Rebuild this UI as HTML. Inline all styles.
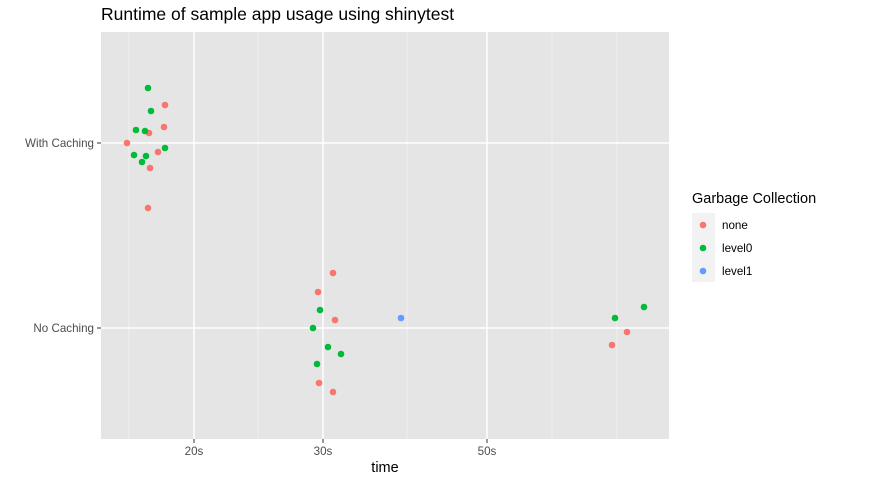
<!DOCTYPE html>
<html><head><meta charset="utf-8"><style>
html,body{margin:0;padding:0;background:#fff;}
svg{display:block;font-family:"Liberation Sans",sans-serif;}
</style></head><body>
<svg width="874" height="483" viewBox="0 0 874 483">
<rect width="874" height="483" fill="#fff"/>
<text x="101" y="20" font-size="17.5" fill="#000">Runtime of sample app usage using shinytest</text>
<rect x="101" y="32" width="568" height="407" fill="#e5e5e5"/>
<g stroke="#f2f2f2" stroke-width="0.8">
<line x1="129" y1="32" x2="129" y2="439"/><line x1="258" y1="32" x2="258" y2="439"/>
<line x1="407" y1="32" x2="407" y2="439"/><line x1="552" y1="32" x2="552" y2="439"/>
<line x1="617" y1="32" x2="617" y2="439"/>
</g>
<g stroke="#fff" stroke-width="1.5">
<line x1="194" y1="32" x2="194" y2="439"/><line x1="323" y1="32" x2="323" y2="439"/>
<line x1="487" y1="32" x2="487" y2="439"/>
<line x1="101" y1="143" x2="669" y2="143"/><line x1="101" y1="328" x2="669" y2="328"/>
</g>
<g stroke="#333" stroke-width="1">
<line x1="97" y1="143" x2="101" y2="143"/><line x1="97" y1="328" x2="101" y2="328"/>
<line x1="194" y1="439" x2="194" y2="443"/><line x1="323" y1="439" x2="323" y2="443"/><line x1="487" y1="439" x2="487" y2="443"/>
</g>
<g font-size="11.6" fill="#4d4d4d">
<text x="94" y="147" text-anchor="end">With Caching</text>
<text x="94" y="332" text-anchor="end">No Caching</text>
<text x="194" y="455" text-anchor="middle">20s</text>
<text x="323" y="455" text-anchor="middle">30s</text>
<text x="487" y="455" text-anchor="middle">50s</text>
</g>
<text x="385" y="472" font-size="14.5" text-anchor="middle" fill="#000">time</text>
<g fill="#f8766d">
<circle cx="165" cy="105" r="3.3"/><circle cx="164" cy="127" r="3.3"/><circle cx="149" cy="133" r="3.3"/><circle cx="127" cy="143" r="3.3"/><circle cx="158" cy="152" r="3.3"/><circle cx="150" cy="168" r="3.3"/><circle cx="148" cy="208" r="3.3"/>
<circle cx="333" cy="273" r="3.3"/><circle cx="318" cy="292" r="3.3"/><circle cx="335" cy="320" r="3.3"/><circle cx="319" cy="383" r="3.3"/><circle cx="333" cy="392" r="3.3"/><circle cx="627" cy="332" r="3.3"/><circle cx="612" cy="345" r="3.3"/>
</g>
<g fill="#00ba38">
<circle cx="148" cy="88" r="3.3"/><circle cx="151" cy="111" r="3.3"/><circle cx="136" cy="130" r="3.3"/><circle cx="145" cy="131" r="3.3"/><circle cx="165" cy="148" r="3.3"/><circle cx="134" cy="155" r="3.3"/><circle cx="146" cy="156" r="3.3"/><circle cx="142" cy="162" r="3.3"/>
<circle cx="320" cy="310" r="3.3"/><circle cx="313" cy="328" r="3.3"/><circle cx="328" cy="347" r="3.3"/><circle cx="341" cy="354" r="3.3"/><circle cx="317" cy="364" r="3.3"/><circle cx="615" cy="318" r="3.3"/><circle cx="644" cy="307" r="3.3"/>
</g>
<circle cx="401" cy="318" r="3.3" fill="#619cff"/>
<text x="692" y="203" font-size="14.5" fill="#000">Garbage Collection</text>
<rect x="692" y="213" width="23" height="69" fill="#f2f2f2"/>
<circle cx="703" cy="225" r="3.3" fill="#f8766d"/>
<circle cx="703" cy="248" r="3.3" fill="#00ba38"/>
<circle cx="703" cy="271" r="3.3" fill="#619cff"/>
<g font-size="11.6" fill="#000">
<text x="722" y="229">none</text><text x="722" y="252">level0</text><text x="722" y="275">level1</text>
</g>
</svg>
</body></html>
